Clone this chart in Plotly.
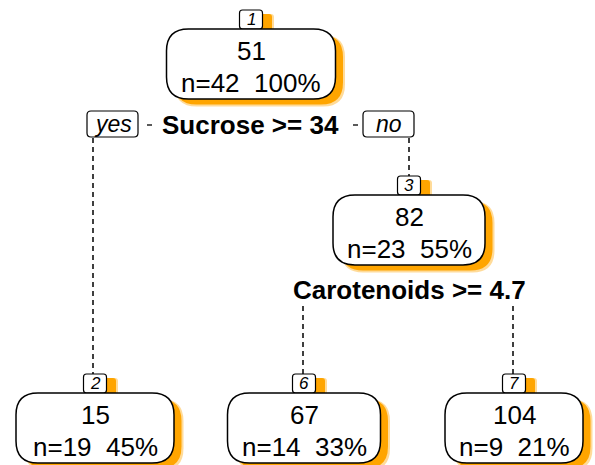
import plotly.graph_objects as go

# ---- data ----
node_ids = [1, 2, 3, 6, 7]
node_values = [51, 15, 82, 67, 104]
node_n = [42, 19, 23, 14, 9]
node_pct = [100, 45, 55, 33, 21]
split_labels = ["Sucrose >= 34", "Carotenoids >= 4.7"]
branch_labels = ["yes", "no"]

# ---- layout (pixel space) ----
W, H = 595, 465
node_cx = [251, 95, 409, 304, 514]
node_top = [29, 393, 195, 393, 393]
node_w = [169, 158, 152, 153, 138]
BOX_H = 70
RAD = 22
FONT = "Liberation Sans, Arial, Helvetica, sans-serif"
SHADOW = "#FFA500"

shapes = []
annotations = []


def rrect(x0, y0, x1, y1, r):
    r = min(r, (x1 - x0) / 2, (y1 - y0) / 2)
    return (f"M {x0+r},{y0} L {x1-r},{y0} Q {x1},{y0} {x1},{y0+r} "
            f"L {x1},{y1-r} Q {x1},{y1} {x1-r},{y1} L {x0+r},{y1} "
            f"Q {x0},{y1} {x0},{y1-r} L {x0},{y0+r} Q {x0},{y0} {x0+r},{y0} Z")


def box(x0, y0, x1, y1, r, dx, dy, lw=1.5, shadow=True):
    if shadow:
        shapes.append(dict(type="path", path=rrect(x0 + dx, y0 + dy, x1 + dx + 1.5, y1 + dy + 1.5, r),
                           fillcolor=SHADOW, opacity=0.4, line=dict(width=0), layer="above"))
        shapes.append(dict(type="path", path=rrect(x0 + dx, y0 + dy, x1 + dx - 0.5, y1 + dy - 0.5, r),
                           fillcolor=SHADOW, line=dict(width=0), layer="above"))
    shapes.append(dict(type="path", path=rrect(x0, y0, x1, y1, r),
                       fillcolor="white", line=dict(color="black", width=lw), layer="above"))


def text(x, y, s, size, bold=False, italic=False):
    if bold:
        s = f"<b>{s}</b>"
    if italic:
        s = f"<i>{s}</i>"
    annotations.append(dict(x=x, y=y, text=s, showarrow=False, xanchor="center", yanchor="middle",
                            font=dict(family=FONT, size=size, color="black")))


def dline(x, y0, y1):
    shapes.append(dict(type="line", x0=x, x1=x, y0=y0, y1=y1,
                       line=dict(color="black", width=1.5, dash="5px,4px"), layer="above"))


def hline(x0, x1, y):
    shapes.append(dict(type="line", x0=x0, x1=x1, y0=y, y1=y,
                       line=dict(color="black", width=1.3), layer="above"))


# connecting dashed lines (drawn first)
dline(93, 138, 374)
dline(409, 138, 178)
dline(303, 306, 374)
dline(513, 306, 374)

# nodes
for i, nid in enumerate(node_ids):
    cx, top, w = node_cx[i], node_top[i], node_w[i]
    lw_ = 23
    box(cx - lw_ / 2, top - 19, cx + lw_ / 2, top, 3, 10, 4, lw=1.2)
    text(cx, top - 9.5, str(nid), 17, italic=True)
    box(cx - w / 2, top, cx + w / 2, top + BOX_H, RAD, 8, 6)
    text(cx, top + 22, str(node_values[i]), 26)
    text(cx, top + 54, f"n={node_n[i]}  {node_pct[i]}%", 26)

# split 1 with yes/no
text(250, 125, split_labels[0], 26, bold=True)
box(87, 111, 138, 137, 4, 0, 0, lw=1.2, shadow=False)
text(112.5, 124, branch_labels[0], 23, italic=True)
box(363, 111, 414, 137, 4, 0, 0, lw=1.2, shadow=False)
text(388.5, 124, branch_labels[1], 23, italic=True)
hline(147, 152, 125)
hline(353, 358, 125)

# split 2
text(409, 290, split_labels[1], 26, bold=True)

fig = go.Figure()
fig.update_layout(
    width=W, height=H,
    margin=dict(l=0, r=0, t=0, b=0),
    paper_bgcolor="white", plot_bgcolor="white",
    xaxis=dict(range=[0, W], visible=False, fixedrange=True),
    yaxis=dict(range=[H, 0], visible=False, fixedrange=True),
    shapes=shapes, annotations=annotations, showlegend=False,
)
fig.write_html("out.html", config={"displayModeBar": False},
               post_script="document.body.style.margin='0px';document.body.style.padding='0px';")
